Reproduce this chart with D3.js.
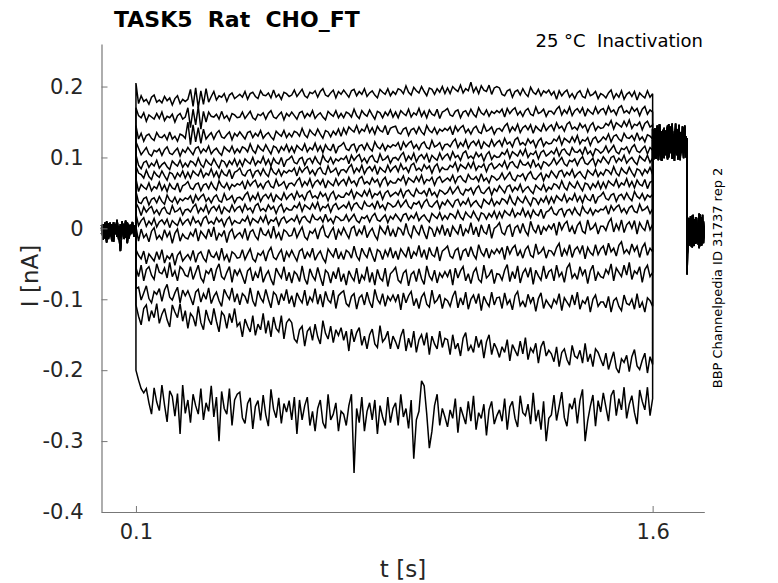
<!DOCTYPE html>
<html>
<head>
<meta charset="utf-8">
<script src="https://cdnjs.cloudflare.com/ajax/libs/d3/7.8.5/d3.min.js"></script>
<style>
  body { margin: 0; background: #fff; }
  svg { display: block; font-family: "DejaVu Sans", sans-serif; }
  .trace { fill: none; stroke: #000; stroke-width: 1.5; stroke-linejoin: miter; stroke-miterlimit: 3; }
</style>
</head>
<body>
<svg id="chart" width="778" height="583"></svg>
<script>
// protocol timing [s]
var tStart = 0.1;
var tEnd = 1.6;
var tTestEnd = 1.7;
var tLast = 1.75;

var xTicks = [0.1, 1.6];
var yTicks = [0.2, 0.1, 0, -0.1, -0.2, -0.3, -0.4];
var yTickLabels = ["0.2", "0.1", "0", "-0.1", "-0.2", "-0.3", "-0.4"];

// holding current before the step [pA], 4 sweeps, t = 0 .. 0.1
var preHold = [
  [-3,6,-14,2,-9,8,-18,-1,5,-12,3,-7,10,-15,-2,7,-10,1,-6,4,-8],
  [5,-11,0,-20,7,-4,-13,9,-8,2,-16,6,-3,-9,11,-5,-14,3,-1,-12,0],
  [-8,4,-6,10,-15,-2,6,-11,-4,12,-7,-32,-1,5,-13,8,-6,-2,9,-10,2],
  [1,-16,8,-5,-11,4,-2,-19,6,-9,0,-14,9,-6,-3,-21,5,-8,3,-4,-11]
];

// current during the 1.5 s prepulse [pA], one sweep per entry, 200 samples, t = 0.1 .. 1.6
var pulse = [
  [205,176,187,179,182,175,185,188,178,181,177,186,180,184,174,183,187,176,182,179,
   182,196,172,198,170,194,175,197,178,186,193,181,187,185,190,179,188,191,183,186,
   189,185,193,182,190,192,186,183,194,188,187,191,184,195,185,189,182,192,190,186,
   188,195,186,191,196,187,184,192,190,194,185,193,197,188,186,191,195,184,193,189,
   195,190,185,194,196,187,193,189,197,186,191,194,188,184,196,192,189,197,187,193,
   189,197,195,190,201,192,188,199,194,191,200,193,187,198,196,189,197,192,200,190,
   198,190,200,196,193,202,191,197,194,206,192,199,190,201,195,193,202,189,198,200,
   198,189,187,194,196,185,193,195,188,197,190,186,199,192,189,196,187,194,191,195,
   188,193,182,194,187,192,195,185,190,183,191,194,186,184,196,187,189,193,183,190,
   188,184,191,195,183,190,185,194,182,189,192,186,193,181,191,187,184,194,185,190],
  [170,159,156,163,151,160,157,154,162,155,164,152,158,156,161,150,159,162,154,157,
   170,142,168,146,172,140,165,150,164,158,157,161,154,165,155,159,152,162,160,156,
   157,164,155,160,165,156,153,161,159,163,154,162,166,157,155,160,164,153,162,158,
   164,159,154,163,165,156,162,158,166,155,160,163,157,153,165,161,158,166,156,162,
   156,164,162,157,168,159,155,166,161,158,167,160,154,165,163,156,164,159,167,157,
   164,156,166,162,159,168,157,163,160,169,158,165,156,167,161,159,168,155,164,166,
   169,160,158,165,167,156,164,166,159,168,161,157,170,163,160,167,158,165,162,166,
   163,168,157,169,162,167,170,160,165,158,166,169,161,159,171,162,164,168,158,165,
   165,161,168,172,160,167,162,171,159,166,169,163,170,158,168,164,161,171,162,167,
   169,161,172,164,167,160,170,173,163,166,162,171,165,169,159,168,172,161,167,164],
  [145,126,134,123,131,133,127,124,135,129,128,132,125,136,126,130,123,133,131,127,
   150,118,146,122,142,120,140,126,131,135,126,134,138,129,127,132,136,125,134,130,
   136,131,126,135,137,128,134,130,138,127,132,135,129,125,137,133,130,138,128,134,
   129,137,135,130,141,132,128,139,134,131,140,133,127,138,136,129,137,132,140,130,
   141,133,143,139,136,145,134,140,137,146,135,142,133,144,138,136,145,132,141,143,
   144,135,133,140,142,131,139,141,134,143,136,132,145,138,135,142,133,140,137,141,
   138,143,132,144,137,142,145,135,140,133,141,144,136,134,146,137,139,143,133,140,
   141,137,144,148,136,143,138,147,135,142,145,139,146,134,144,140,137,147,138,143,
   146,138,149,141,144,137,147,150,140,143,139,148,142,146,136,145,149,138,144,141,
   142,148,145,152,140,149,146,143,151,144,153,141,147,145,150,139,148,151,143,146],
  [122,113,104,109,114,105,102,110,108,112,103,111,115,106,104,109,113,102,111,107,
   114,109,104,113,115,106,112,108,116,105,110,113,107,103,115,111,108,116,106,112,
   107,115,113,108,119,110,106,117,112,109,118,111,105,116,114,107,115,110,118,108,
   115,107,117,113,110,119,108,114,111,120,109,116,107,118,112,110,119,106,115,117,
   121,112,110,117,119,108,116,118,111,120,113,109,122,115,112,119,110,117,114,118,
   116,121,110,122,115,120,123,113,118,111,119,122,114,112,124,115,117,121,111,118,
   119,115,122,126,114,121,116,125,113,120,123,117,124,112,122,118,115,125,116,121,
   124,116,127,119,122,115,125,128,118,121,117,126,120,124,114,123,127,116,122,119,
   120,126,123,130,118,127,124,121,129,122,131,119,125,123,128,117,126,129,121,124,
   129,125,133,122,130,132,126,123,134,128,127,131,124,135,125,129,122,132,130,126],
  [104,89,84,93,95,86,92,88,96,85,90,93,87,83,95,91,88,96,86,92,
   87,95,93,88,99,90,86,97,92,89,98,91,85,96,94,87,95,90,98,88,
   96,88,98,94,91,100,89,95,92,101,90,97,88,99,93,91,100,87,96,98,
   102,93,91,98,100,89,97,99,92,101,94,90,103,96,93,100,91,98,95,99,
   97,102,91,103,96,101,104,94,99,92,100,103,95,93,105,96,98,102,92,99,
   100,96,103,107,95,102,97,106,94,101,104,98,105,93,103,99,96,106,97,102,
   105,97,108,100,103,96,106,109,99,102,98,107,101,105,95,104,108,97,103,100,
   101,107,104,111,99,108,105,102,110,103,112,100,106,104,109,98,107,110,102,105,
   109,105,113,102,110,112,106,103,114,108,107,111,104,115,105,109,102,112,110,106,
   109,116,107,112,117,108,105,113,111,115,106,114,118,109,107,112,116,105,114,110],
  [88,78,76,71,82,73,69,80,75,72,81,74,68,79,77,70,78,73,81,71,
   79,71,81,77,74,83,72,78,75,84,73,80,71,82,76,74,83,70,79,81,
   85,76,74,81,83,72,80,82,75,84,77,73,86,79,76,83,74,81,78,82,
   80,85,74,86,79,84,87,77,82,75,83,86,78,76,88,79,81,85,75,82,
   83,79,86,90,78,85,80,89,77,84,87,81,88,76,86,82,79,89,80,85,
   88,80,91,83,86,79,89,92,82,85,81,90,84,88,78,87,91,80,86,83,
   83,89,86,93,81,90,87,84,92,85,94,82,88,86,91,80,89,92,84,87,
   91,87,95,84,92,94,88,85,96,90,89,93,86,97,87,91,84,94,92,88,
   92,99,90,95,100,91,88,96,94,98,89,97,101,92,90,95,99,88,97,93,
   101,96,91,100,102,93,99,95,103,92,97,100,94,90,102,98,95,103,93,99],
  [70,52,62,58,55,64,53,59,56,65,54,61,52,63,57,55,64,51,60,62,
   66,57,55,62,64,53,61,63,56,65,58,54,67,60,57,64,55,62,59,63,
   61,66,55,67,60,65,68,58,63,56,64,67,59,57,69,60,62,66,56,63,
   64,60,67,71,59,66,61,70,58,65,68,62,69,57,67,63,60,70,61,66,
   69,61,72,64,67,60,70,73,63,66,62,71,65,69,59,68,72,61,67,64,
   64,70,67,74,62,71,68,65,73,66,75,63,69,67,72,61,70,73,65,68,
   71,67,75,64,72,74,68,65,76,70,69,73,66,77,67,71,64,74,72,68,
   71,78,69,74,79,70,67,75,73,77,68,76,80,71,69,74,78,67,76,72,
   81,76,71,80,82,73,79,75,83,72,77,80,74,70,82,78,75,83,73,79,
   75,83,81,76,87,78,74,85,80,77,86,79,73,84,82,75,83,78,86,76],
  [52,37,35,42,44,33,41,43,36,45,38,34,47,40,37,44,35,42,39,43,
   41,46,35,47,40,45,48,38,43,36,44,47,39,37,49,40,42,46,36,43,
   44,40,47,51,39,46,41,50,38,45,48,42,49,37,47,43,40,50,41,46,
   49,41,52,44,47,40,50,53,43,46,42,51,45,49,39,48,52,41,47,44,
   44,50,47,54,42,51,48,45,53,46,55,43,49,47,52,41,50,53,45,48,
   51,47,55,44,52,54,48,45,56,50,49,53,46,57,47,51,44,54,52,48,
   51,58,49,54,59,50,47,55,53,57,48,56,60,51,49,54,58,47,56,52,
   60,55,50,59,61,52,58,54,62,51,56,59,53,49,61,57,54,62,52,58,
   55,63,61,56,67,58,54,65,60,57,66,59,53,64,62,55,63,58,66,56,
   65,57,67,63,60,69,58,64,61,70,59,66,57,68,62,60,69,56,65,67],
  [36,29,18,30,23,28,31,21,26,19,27,30,22,20,32,23,25,29,19,26,
   27,23,30,34,22,29,24,33,21,28,31,25,32,20,30,26,23,33,24,29,
   31,23,34,26,29,22,32,35,25,28,24,33,27,31,21,30,34,23,29,26,
   26,32,29,36,24,33,30,27,35,28,37,25,31,29,34,23,32,35,27,30,
   33,29,37,26,34,36,30,27,38,32,31,35,28,39,29,33,26,36,34,30,
   32,39,30,35,40,31,28,36,34,38,29,37,41,32,30,35,39,28,37,33,
   40,35,30,39,41,32,38,34,42,31,36,39,33,29,41,37,34,42,32,38,
   34,42,40,35,46,37,33,44,39,36,45,38,32,43,41,34,42,37,45,35,
   44,36,46,42,39,48,37,43,40,49,38,45,36,47,41,39,48,35,44,46,
   51,42,40,47,49,38,46,48,41,50,43,39,52,45,42,49,40,47,44,48],
  [20,4,11,15,3,10,5,14,2,9,12,6,13,1,11,7,4,14,5,10,
   13,5,16,8,11,4,14,17,7,10,6,15,9,13,3,12,16,5,11,8,
   7,13,10,17,5,14,11,8,16,9,18,6,12,10,15,4,13,16,8,11,
   14,10,18,7,15,17,11,8,19,13,12,16,9,20,10,14,7,17,15,11,
   12,19,10,15,20,11,8,16,14,18,9,17,21,12,10,15,19,8,17,13,
   20,15,10,19,21,12,18,14,22,11,16,19,13,9,21,17,14,22,12,18,
   13,21,19,14,25,16,12,23,18,15,24,17,11,22,20,13,21,16,24,14,
   23,15,25,21,18,27,16,22,19,28,17,24,15,26,20,18,27,14,23,25,
   30,21,19,26,28,17,25,27,20,29,22,18,31,24,21,28,19,26,23,27,
   26,31,20,32,25,30,33,23,28,21,29,32,24,22,34,25,27,31,21,28],
  [2,-18,-1,-13,-8,-19,-4,1,-15,-10,-16,-2,-12,-5,-21,-7,-1,-18,-8,-13,
   -15,-6,-11,0,-18,-4,-9,-14,-1,-12,2,-17,-7,-11,-3,-20,-6,-1,-14,-9,
   -6,-13,0,-17,-5,-2,-11,-16,1,-8,-10,-3,-14,3,-13,-6,-17,-2,-5,-11,
   -10,1,-13,-5,2,-12,-16,-4,-7,-1,-15,-2,4,-10,-13,-5,1,-16,-2,-9,
   1,-7,-14,0,3,-11,-2,-8,4,-13,-5,0,-10,-16,3,-3,-8,4,-11,-2,
   -12,1,-2,-10,7,-7,-13,4,-4,-9,5,-6,-15,2,-1,-12,1,-7,5,-10,
   0,-12,3,-3,-8,6,-11,-1,-6,8,-9,2,-12,5,-5,-8,6,-14,0,3,
   8,-6,-9,2,5,-12,1,4,-7,7,-4,-10,10,-1,-6,5,-9,2,-3,4,
   -1,7,-10,9,-2,6,10,-5,3,-8,4,9,-4,-7,12,-2,1,7,-8,3,
   3,-3,8,14,-5,6,-2,12,-6,5,9,0,11,-8,8,1,-3,12,-2,6],
  [-30,-38,-43,-32,-50,-36,-41,-46,-33,-44,-30,-49,-39,-43,-35,-52,-38,-33,-46,-41,
   -37,-44,-31,-48,-36,-33,-42,-47,-30,-39,-41,-34,-45,-28,-44,-37,-48,-33,-36,-42,
   -41,-30,-44,-36,-29,-43,-47,-35,-38,-32,-46,-33,-27,-41,-44,-36,-30,-47,-33,-40,
   -31,-39,-46,-32,-29,-43,-34,-40,-28,-45,-37,-32,-42,-48,-29,-35,-40,-28,-43,-34,
   -44,-31,-34,-42,-25,-39,-45,-28,-36,-41,-27,-38,-47,-30,-33,-44,-31,-39,-27,-42,
   -32,-44,-29,-35,-40,-26,-43,-33,-38,-24,-41,-30,-44,-27,-37,-40,-26,-46,-32,-29,
   -25,-39,-42,-31,-28,-45,-32,-29,-40,-26,-37,-43,-23,-34,-39,-28,-42,-31,-36,-29,
   -35,-27,-44,-25,-36,-28,-24,-39,-31,-42,-30,-25,-38,-41,-22,-36,-33,-27,-42,-31,
   -32,-38,-27,-21,-40,-29,-37,-23,-41,-30,-26,-35,-24,-43,-27,-34,-38,-23,-37,-29,
   -25,-38,-21,-33,-28,-39,-24,-19,-35,-30,-36,-22,-32,-25,-41,-27,-21,-38,-28,-33],
  [-55,-68,-52,-74,-58,-54,-66,-72,-50,-62,-64,-56,-70,-48,-68,-60,-74,-54,-58,-66,
   -68,-54,-72,-62,-52,-70,-76,-60,-64,-56,-74,-58,-50,-68,-72,-62,-54,-76,-58,-66,
   -58,-68,-78,-60,-56,-74,-62,-70,-54,-76,-66,-60,-72,-80,-56,-64,-70,-54,-74,-62,
   -77,-61,-65,-75,-53,-71,-79,-57,-67,-73,-55,-69,-81,-59,-63,-77,-61,-71,-55,-75,
   -64,-80,-60,-68,-74,-56,-78,-66,-72,-54,-76,-62,-80,-58,-70,-74,-56,-82,-64,-60,
   -55,-73,-77,-63,-59,-81,-65,-61,-75,-57,-71,-79,-53,-67,-73,-59,-77,-63,-69,-61,
   -68,-58,-80,-56,-70,-60,-54,-74,-64,-78,-62,-56,-72,-76,-52,-70,-66,-58,-78,-64,
   -65,-73,-59,-51,-75,-61,-71,-53,-77,-63,-57,-69,-55,-79,-59,-67,-73,-53,-71,-61,
   -58,-74,-52,-68,-62,-76,-56,-50,-70,-64,-72,-54,-66,-58,-78,-60,-52,-74,-62,-68,
   -70,-58,-64,-50,-74,-56,-62,-68,-52,-66,-48,-72,-60,-64,-54,-76,-58,-52,-68,-62],
  [-85,-83,-101,-91,-81,-99,-105,-89,-93,-85,-103,-87,-79,-97,-101,-91,-83,-105,-87,-95,
   -88,-98,-108,-90,-86,-104,-92,-100,-84,-106,-96,-90,-102,-110,-86,-94,-100,-84,-104,-92,
   -108,-92,-96,-106,-84,-102,-110,-88,-98,-104,-86,-100,-112,-90,-94,-108,-92,-102,-86,-106,
   -95,-111,-91,-99,-105,-87,-109,-97,-103,-85,-107,-93,-111,-89,-101,-105,-87,-113,-95,-91,
   -88,-106,-110,-96,-92,-114,-98,-94,-108,-90,-104,-112,-86,-100,-106,-92,-110,-96,-102,-94,
   -103,-93,-115,-91,-105,-95,-89,-109,-99,-113,-97,-91,-107,-111,-87,-105,-101,-93,-113,-99,
   -102,-110,-96,-88,-112,-98,-108,-90,-114,-100,-94,-106,-92,-116,-96,-104,-110,-90,-108,-98,
   -97,-113,-91,-107,-101,-115,-95,-89,-109,-103,-111,-93,-105,-97,-117,-99,-91,-113,-101,-107,
   -112,-100,-106,-92,-116,-98,-104,-110,-94,-108,-90,-114,-102,-106,-96,-118,-100,-94,-110,-104,
   -104,-112,-96,-118,-102,-98,-110,-116,-94,-106,-108,-100,-114,-92,-112,-104,-118,-98,-102,-110],
  [-108,-124,-136,-113,-108,-131,-116,-126,-106,-134,-121,-113,-129,-139,-108,-118,-126,-106,-131,-116,
   -141,-120,-125,-138,-110,-133,-143,-115,-128,-136,-113,-131,-146,-118,-123,-141,-120,-133,-113,-138,
   -133,-153,-128,-138,-146,-123,-151,-135,-143,-120,-148,-130,-153,-125,-141,-146,-123,-156,-133,-128,
   -133,-156,-161,-143,-138,-166,-145,-140,-158,-135,-153,-163,-130,-148,-156,-138,-161,-143,-151,-140,
   -158,-145,-173,-142,-160,-147,-140,-165,-152,-170,-150,-142,-163,-168,-137,-160,-155,-145,-170,-152,
   -160,-170,-152,-142,-173,-155,-168,-145,-175,-157,-150,-165,-147,-178,-152,-163,-170,-145,-168,-155,
   -157,-178,-150,-170,-162,-180,-155,-147,-173,-165,-175,-152,-168,-157,-183,-160,-150,-178,-162,-170,
   -182,-167,-175,-157,-187,-164,-172,-180,-159,-177,-154,-185,-169,-175,-162,-190,-167,-159,-180,-172,
   -177,-188,-167,-195,-175,-170,-185,-193,-165,-180,-183,-172,-190,-162,-188,-177,-195,-170,-175,-185,
   -194,-176,-199,-186,-174,-197,-204,-184,-189,-179,-202,-181,-171,-194,-199,-186,-176,-204,-181,-192],
  [-200,-214,-226,-232,-226,-246,-262,-225,-245,-257,-221,-249,-273,-229,-237,-265,-233,-290,-221,-261,
   -242,-274,-234,-250,-262,-226,-270,-246,-258,-222,-266,-238,-300,-230,-254,-262,-226,-278,-242,-234,
   -231,-267,-275,-247,-239,-283,-251,-243,-271,-235,-263,-279,-227,-255,-267,-239,-275,-247,-259,-243,
   -270,-238,-290,-242,-270,-250,-238,-278,-258,-286,-254,-242,-274,-282,-234,-270,-262,-246,-286,-258,
   -262,-278,-250,-234,-345,-254,-274,-238,-286,-258,-246,-270,-242,-290,-250,-266,-278,-238,-274,-254,
   -246,-278,-234,-266,-254,-282,-242,-325,-270,-258,-215,-222,-262,-310,-286,-250,-234,-278,-254,-266,
   -280,-256,-268,-240,-288,-252,-264,-276,-244,-272,-236,-284,-260,-268,-248,-292,-256,-244,-276,-264,
   -256,-272,-240,-284,-252,-244,-268,-280,-236,-260,-264,-248,-276,-232,-272,-256,-284,-244,-300,-268,
   -263,-235,-271,-251,-231,-267,-279,-247,-255,-239,-275,-243,-227,-300,-271,-251,-235,-279,-243,-259,
   -232,-252,-272,-236,-228,-264,-240,-256,-224,-268,-248,-236,-260,-276,-228,-244,-256,-224,-264,-240]
];

// test pulse current [pA], 4 sweeps, t = 1.6 .. 1.7
var testPulse = [
  [130,105,141,98,127,115,146,102,135,120,99,138,112,143,104,129,118,148,101,133,110,140,97,125,136,107,144,113,131,100,122],
  [112,139,100,128,145,108,121,96,137,116,142,103,130,99,147,118,106,134,125,95,140,111,128,146,102,133,119,99,138,115,127],
  [125,97,136,118,104,143,110,131,95,128,140,106,122,145,100,117,135,98,129,112,148,103,138,121,96,134,109,142,117,130,105],
  [140,116,102,133,121,96,147,108,127,139,101,119,135,97,126,144,110,131,99,137,115,104,128,142,100,123,136,107,145,113,118]
];

// back at holding potential [pA], 4 sweeps, t = 1.7 .. 1.75
var postHold = [
  [-65,-10,12,-22,5,-15,18,-8,-25,9,-3,15,-19,2,-12,20,-6,-24,7,-14,3],
  [-48,8,-18,14,-4,-26,10,-12,3,-20,16,-7,-1,-23,11,-16,6,-9,19,-21,-2],
  [-40,-22,4,-13,17,-5,-27,8,-16,13,-2,-20,6,-11,21,-8,-25,2,-15,10,-4],
  [-35,15,-6,-24,9,-17,3,19,-11,-3,-22,12,-14,7,-28,5,-9,16,-19,0,-7]
];

var svg = d3.select("#chart");

var x = d3.scaleLinear().domain([0, tLast]).range([101.5, 704.3]);
var y = d3.scaleLinear().domain([-0.4, 0.26]).range([512, 44]);

// build one sweep as [t, I(nA)] points
function sweep(i) {
  var pts = [];
  var pre = preHold[i % 4], mid = pulse[i], tp = testPulse[i % 4], post = postHold[i % 4];
  pre.forEach(function(v, k) { pts.push([tStart * k / (pre.length - 1), v / 1000]); });
  mid.forEach(function(v, k) { pts.push([tStart + (tEnd - tStart) * k / (mid.length - 1), v / 1000]); });
  tp.forEach(function(v, k) { pts.push([tEnd + (tTestEnd - tEnd) * k / (tp.length - 1), v / 1000]); });
  post.forEach(function(v, k) { pts.push([tTestEnd + (tLast - tTestEnd) * k / (post.length - 1), v / 1000]); });
  return pts;
}

var line = d3.line()
    .x(function(d) { return x(d[0]); })
    .y(function(d) { return y(d[1]); });

svg.append("g")
  .selectAll("path")
  .data(d3.range(pulse.length).map(sweep))
  .enter().append("path")
    .attr("class", "trace")
    .attr("d", line);

// axes, matlab style: ticks inside, no box
var xAxis = svg.append("g")
    .attr("transform", "translate(0," + y(-0.4) + ")")
    .call(d3.axisBottom(x).tickValues(xTicks).tickSizeInner(-6).tickSizeOuter(0)
      .tickPadding(12).tickFormat(d3.format(".1f")));

var yAxis = svg.append("g")
    .attr("transform", "translate(" + x(0) + ",0)")
    .call(d3.axisLeft(y).tickValues(yTicks).tickSizeInner(-6).tickSizeOuter(0)
      .tickPadding(18).tickFormat(function(d, i) { return yTickLabels[i]; }));

[xAxis, yAxis].forEach(function(a) {
  a.select(".domain").attr("stroke", "#777").attr("stroke-width", 1.2);
  a.selectAll(".tick line").attr("stroke", "#777");
  a.selectAll(".tick text").attr("fill", "#262626").attr("font-size", 21)
    .attr("font-family", "DejaVu Sans");
});

svg.append("text")
    .attr("x", 403).attr("y", 577)
    .attr("text-anchor", "middle")
    .attr("font-size", 23).attr("fill", "#262626")
    .text("t [s]");

svg.append("text")
    .attr("transform", "translate(38,276) rotate(-90)")
    .attr("text-anchor", "middle")
    .attr("font-size", 23).attr("fill", "#262626")
    .text("I [nA]");

svg.append("text")
    .attr("x", 114).attr("y", 27)
    .attr("font-size", 22).attr("font-weight", "bold").attr("fill", "#000")
    .attr("xml:space", "preserve")
    .text("TASK5  Rat  CHO_FT");

svg.append("text")
    .attr("x", 703).attr("y", 47)
    .attr("text-anchor", "end")
    .attr("font-size", 18).attr("fill", "#000")
    .attr("xml:space", "preserve")
    .text("25 °C  Inactivation");

svg.append("text")
    .attr("transform", "translate(722,278) rotate(-90)")
    .attr("text-anchor", "middle")
    .attr("font-size", 13).attr("fill", "#000")
    .text("BBP Channelpedia ID 31737 rep 2");
</script>
</body>
</html>
